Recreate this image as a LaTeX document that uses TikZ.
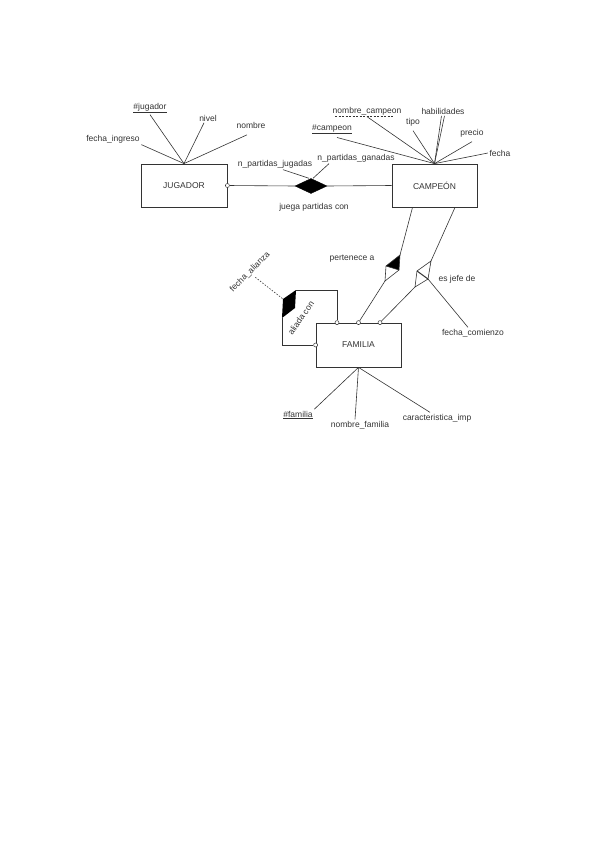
\documentclass[tikz,border=0pt]{standalone}
\usepackage{fontspec}
\setmainfont{Liberation Sans}
\usepackage{tikz}
\usetikzlibrary{shapes.geometric}

\newcommand{\erfont}{\fontsize{8.5}{10}\selectfont}

\begin{document}
\begin{tikzpicture}[x=1pt, y=-1pt,
  every node/.style={font=\erfont, text=black!80},
  entity/.style={draw=black!80, line width=0.8pt, minimum width=86pt, minimum height=43pt, inner sep=0pt},
  attr/.style={inner sep=1.5pt},
  conn/.style={draw=black!80, line width=0.6pt},
  opcional/.style={circle, draw=black!80, fill=white, line width=0.5pt, inner sep=0pt, minimum size=4pt}]
  \useasboundingbox (0,0) rectangle (599,848);

  % Draw the entities
  \node[entity] (jugador) at (184,185.5) {JUGADOR};
  \node[entity, minimum width=85pt] (campeon) at (434.5,185.5) {CAMPEÓN};
  \node[entity, minimum width=85pt, minimum height=44pt] (familia) at (358.5,345) {FAMILIA};

  % Attributes of JUGADOR
  \node[attr] (fechaing) at (113,139) {fecha\_ingreso};
  \node[attr] (idjug) at (150,108) {\underline{\#jugador}};
  \node[attr] (nivel) at (208,118) {nivel};
  \node[attr] (nombre) at (251,125) {nombre};
  \draw[conn] (fechaing.south east) -- (jugador.north);
  \draw[conn] (idjug.south) -- (jugador.north);
  \draw[conn] ([xshift=-4pt]nivel.south) -- (jugador.north);
  \draw[conn] ([xshift=-4pt,yshift=-5pt]nombre.south) -- (jugador.north);

  % Attributes of CAMPEON
  \node[attr] (idcamp) at (332,129) {\underline{\#campeon}};
  \node[attr] (nomcamp) at (367,111) {nombre\_campeon};
  \node[attr] (tipo) at (413,122) {tipo};
  \node[attr] (habil) at (443,111) {habilidades};
  \node[attr] (precio) at (472,133) {precio};
  \node[attr] (fecha) at (500,153) {fecha};
  \draw[conn, dashed, dash pattern=on 2pt off 1.5pt] ([xshift=4pt]nomcamp.south west) -- ([xshift=-10pt]nomcamp.south east);
  \draw[conn] ([xshift=5pt,yshift=-2pt]idcamp.south) -- (campeon.north);
  \draw[conn] (nomcamp.south) -- (campeon.north);
  \draw[conn] ([yshift=-3pt]tipo.south) -- (campeon.north);
  \draw[conn] ([xshift=-1.5pt]habil.south) -- (campeon.north);
  \draw[conn] ([xshift=1.5pt]habil.south) -- (campeon.north);
  \draw[conn] ([yshift=-3pt]precio.south) -- (campeon.north);
  \draw[conn] (fecha.west) -- (campeon.north);

  % Relationship juega partidas con
  \node[diamond, fill=black, draw=black, minimum width=32pt, minimum height=15pt, inner sep=0pt] (juega) at (311,186) {};
  \node[opcional] (oj) at (jugador.east) {};
  \draw[conn] (oj) -- (juega.west);
  \draw[conn] (juega.east) -- (campeon.west);
  \node (juegatxt) at (314,207) {juega partidas con};
  \node[attr] (npj) at (275,164) {n\_partidas\_jugadas};
  \node[attr] (npg) at (356,158) {n\_partidas\_ganadas};
  \draw[conn] ([xshift=8pt]npj.south) -- ([xshift=-2pt]juega.north);
  \draw[conn] ([xshift=-27pt]npg.south) -- ([xshift=2pt]juega.north);

  % Circles on FAMILIA
  \node[opcional] (of1) at ([xshift=-21.5pt]familia.north) {};
  \node[opcional] (of2) at (familia.north) {};
  \node[opcional] (of3) at ([xshift=21.5pt]familia.north) {};
  \node[opcional] (of4) at (familia.west) {};

  % Relationship pertenece a
  \coordinate (pa1) at (400,255);
  \coordinate (pa2) at (399,270);
  \coordinate (pa3) at (385,281);
  \coordinate (pa4) at (386,266);
  \fill[black] (pa1) -- (pa2) -- (pa4) -- cycle;
  \draw[conn] (pa1) -- (pa2) -- (pa3) -- (pa4) -- cycle;
  \draw[conn] (pa4) -- (pa2);
  \draw[conn] ([xshift=-22pt]campeon.south) -- (pa1);
  \draw[conn] (pa3) -- (of2);
  \node (pertxt) at (352,259) {pertenece a};

  % Relationship es jefe de
  \coordinate (ej1) at (431,261);
  \coordinate (ej2) at (417,271);
  \coordinate (ej3) at (415,287);
  \coordinate (ej4) at (428,279);
  \draw[conn] (ej1) -- (ej2) -- (ej3) -- (ej4) -- cycle;
  \draw[conn, line width=1pt] (ej2) -- (ej4);
  \draw[conn] ([xshift=20.5pt]campeon.south) -- (ej1);
  \draw[conn] (ej3) -- (of3);
  \node (jefetxt) at (457,279) {es jefe de};
  \node[attr] (fcom) at (473,333) {fecha\_comienzo};
  \draw[conn] (ej4) -- ([xshift=-5pt]fcom.north);

  % Relationship aliada con
  \coordinate (al1) at (296,290);
  \coordinate (al2) at (283,299);
  \coordinate (al3) at (282,318);
  \coordinate (al4) at (295,308);
  \fill[black] (al1) -- (al2) -- (al3) -- (al4) -- cycle;
  \draw[conn] (al1) -- (al1 -| of1) -- (of1);
  \draw[conn] (al3) -- (al3 |- of4) -- (of4);
  \node[rotate=55] (aliadatxt) at (301,318) {aliada con};
  \node[rotate=45] (falianza) at (250,272) {fecha\_alianza};
  \draw[conn, dashed, dash pattern=on 1.5pt off 1.5pt] (falianza.south) -- (al2);

  % Attributes of FAMILIA
  \node[attr] (idfam) at (298,415) {\underline{\#familia}};
  \node[attr] (nomfam) at (360,425) {nombre\_familia};
  \node[attr] (caract) at (437,418) {caracteristica\_imp};
  \draw[conn] (idfam.north east) -- (familia.south);
  \draw[conn] ([xshift=-5pt]nomfam.north) -- (familia.south);
  \draw[conn] ([xshift=-7pt]caract.north) -- (familia.south);

\end{tikzpicture}
\end{document}
